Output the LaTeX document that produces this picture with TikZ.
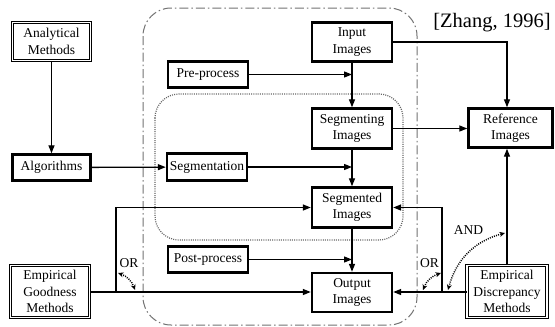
\documentclass[tikz,border=0pt]{standalone}
\usepackage{fontspec}
\setmainfont{Liberation Serif}
\usetikzlibrary{arrows.meta}
\begin{document}
\begin{tikzpicture}[x=1pt,y=-1pt,
  every node/.style={font=\fontsize{13.5}{16.5}\selectfont, align=center, inner sep=0pt},
  thickbox/.style={draw, line width=2.4pt, minimum width=#1},
  thickbox/.default=80pt,
  dblbox/.style={draw, double, double distance=1.7pt, line width=1pt, minimum width=78pt, minimum height=52pt},
  arr/.style={line width=1.3pt, -{Triangle[length=8pt,width=6pt]}},
  orarr/.style={line width=1.5pt, dash pattern=on 1pt off 1.2pt,
    {Stealth[length=5.5pt,width=5pt]}-{Stealth[length=5.5pt,width=5pt]}},
  frame/.style={draw=black!55, line width=1pt, rounded corners=28pt,
    dash pattern=on 9pt off 3pt on 1.5pt off 3pt},
  inner/.style={draw=black!60, line width=1.2pt, rounded corners=24pt,
    dash pattern=on 1pt off 1.2pt}]

\path[use as bounding box, fill=white] (0,0) rectangle (555,327);

% processing frame and segmentation core
\draw[frame] (143,8) rectangle (417,325);
\draw[inner] (155,94) rectangle (403,240);

% boxes
\node[dblbox, minimum width=78pt, minimum height=38pt] (am) at (51.5,41.5) {Analytical\\Methods};
\node[thickbox=78pt, minimum height=26pt] (alg) at (51.5,167.5) {Algorithms};
\node[thickbox, minimum height=26pt] (pre) at (208,74.5) {Pre-process};
\node[thickbox, minimum height=27pt] (seg) at (207,167) {Segmentation};
\node[thickbox, minimum height=26pt] (pp) at (208,259.5) {Post-process};
\node[thickbox, minimum height=39pt] (inp) at (352,42) {Input\\Images};
\node[thickbox, minimum height=40pt] (sgi) at (352,128.5) {Segmenting\\Images};
\node[thickbox, minimum height=40pt] (sgd) at (352,207.5) {Segmented\\Images};
\node[thickbox, minimum height=39pt] (out) at (352,292.5) {Output\\Images};
\node[thickbox=84pt, minimum height=39pt] (ref) at (510.5,128) {Reference\\Images};
\node[dblbox, minimum width=79pt] (egm) at (50,291.5) {Empirical\\Goodness\\Methods};
\node[dblbox, minimum width=80pt] (edm) at (507,291.5) {Empirical\\Discrepancy\\Methods};

\node[font=\fontsize{20.5}{22}\selectfont] (cite) at (492,23) {[Zhang, 1996]};

% junction points
\coordinate (rx) at (507,0);
\coordinate (lj) at (116,292);
\coordinate (rj) at (442,292);

% connectors
\draw[arr] (am) -- (alg);
\draw[arr] (alg) -- (seg);
\draw[arr] (pre.east) -- (pre.east -| inp.south);
\draw[arr] (inp) -- (sgi);
\draw[arr] (seg.east) -- (seg.east -| sgi.south);
\draw[arr] (sgi) -- (sgd);
\draw[arr] (pp.east) -- (pp.east -| sgd.south);
\draw[arr] (sgd) -- (out);
\draw[arr] (inp.east) -| (ref.north -| rx);
\draw[arr] (sgi.east) -- (sgi.east -| ref.west);
\draw[arr] (edm.north) -- (edm.north |- ref.south);
\draw[arr] (egm.east |- lj) -- (out.west |- lj);
\draw[arr] (lj) |- (sgd.west);
\draw[arr] (edm.west |- rj) -- (out.east |- rj);
\draw[arr] (rj) |- (sgd.east);

% combination markers
\coordinate (la) at (118,273);
\coordinate (lb) at (135,290);
\coordinate (ra) at (423,290);
\coordinate (rb) at (441,273);
\coordinate (aa) at (448,290);
\coordinate (ab) at (505,233);
\draw[orarr] (la) to[bend left=25] (lb);
\draw[orarr] (ra) to[bend left=25] (rb);
\draw[orarr] (aa) to[bend left=30] (ab);
\node (orl) at (129,263) {OR};
\node (orr) at (429.5,263) {OR};
\node (and) at (468.5,230) {AND};
\end{tikzpicture}
\end{document}
